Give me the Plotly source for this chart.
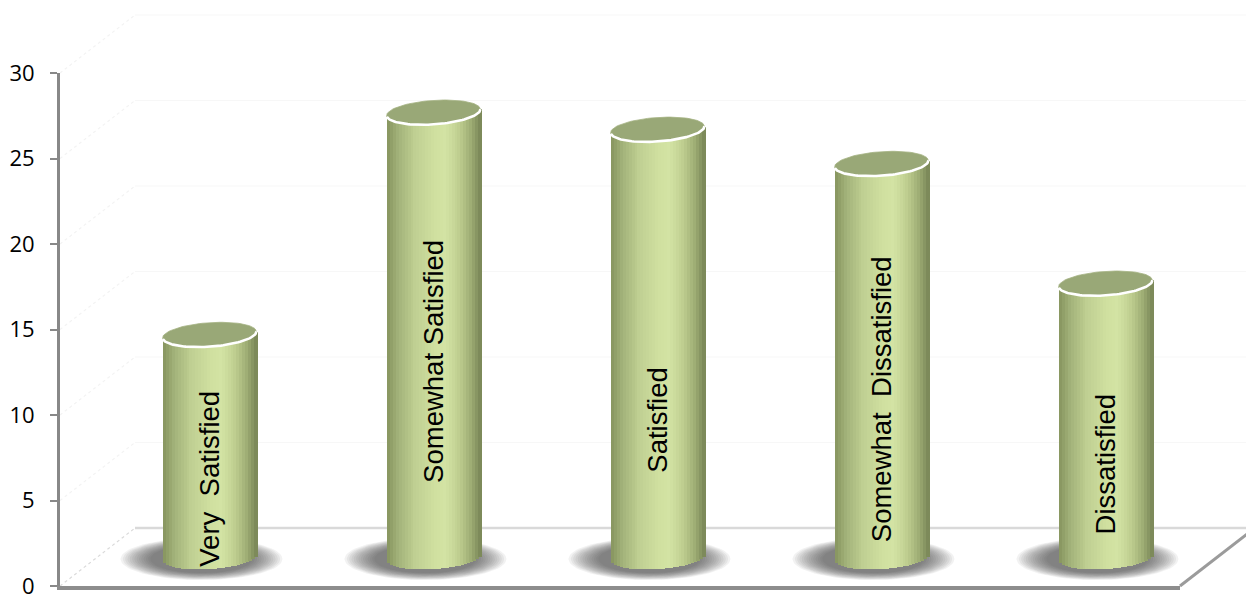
import numpy as np
import plotly.graph_objects as go

# ---------------- data ----------------
categories = ["Very Satisfied", "Somewhat Satisfied", "Satisfied",
              "Somewhat Dissatisfied", "Dissatisfied"]
labels = ["Very\u00a0 Satisfied", "Somewhat Satisfied", "Satisfied",
          "Somewhat\u00a0 Dissatisfied", "Dissatisfied"]
values = [13, 26, 25, 23, 16]
y_ticks = [0, 5, 10, 15, 20, 25, 30]
label_pos = [0.35, 0.44, 0.32, 0.40, 0.34]  # label centre as share of bar height

# ---------------- geometry (pixels) ----------------
W, H = 1246, 597
X0, X1 = 60, 1180          # front floor edge
Y0 = 586                   # front value 0
PPU = 17.1                 # pixels per unit
DX, DY = 75, 58            # depth offset (front -> back wall)
YMAX = 30
YMIN2 = -2


def px(x):
    return x / W


def py(y):
    return (H - y) / H


MX0, MX1 = X0 + DX / 2, X1 + DX / 2
MY0 = Y0 - DY / 2
n = len(categories)
PPC = (MX1 - MX0) / n      # pixels per category

# cylinder ellipse (pixels)
A_, B_ = 47.0, 12.0
TH = np.deg2rad(4.0)


def ell(t, a=A_, b=B_, th=TH):
    X = a * np.cos(t) * np.cos(th) - b * np.sin(t) * np.sin(th)
    Y = a * np.cos(t) * np.sin(th) + b * np.sin(t) * np.cos(th)
    return X, Y


def arc_y(X, a=A_, b=B_, th=TH):
    c, s = np.cos(th), np.sin(th)
    A = s * s / a ** 2 + c * c / b ** 2
    Bq = 2 * X * (c * s / a ** 2 - s * c / b ** 2)
    C = X * X * (c * c / a ** 2 + s * s / b ** 2) - 1
    disc = np.maximum(Bq * Bq - 4 * A * C, 0)
    low = (-Bq - np.sqrt(disc)) / (2 * A)
    mid = -Bq / (2 * A)
    return low, mid


def hex2rgb(h):
    h = h.lstrip('#')
    return np.array([int(h[i:i + 2], 16) for i in (0, 2, 4)], float)


stops = [(0.0, '#86945e'), (0.12, '#a3b37a'), (0.3, '#bfcf92'), (0.5, '#cfdf9f'),
         (0.62, '#d3e3a4'), (0.78, '#bdcc8e'), (0.9, '#9cab73'), (1.0, '#778455')]


def shade(p):
    ps = [s[0] for s in stops]
    cs = [hex2rgb(s[1]) for s in stops]
    rgb = [np.interp(p, ps, [c[i] for c in cs]) for i in range(3)]
    return 'rgb(%d,%d,%d)' % tuple(int(round(v)) for v in rgb)


xs = np.arange(n)
fig = go.Figure()

# invisible trace so the front axes are drawn
fig.add_trace(go.Scatter(x=[-0.5], y=[0], mode='markers', marker=dict(opacity=0),
                         xaxis='x', yaxis='y', hoverinfo='skip', showlegend=False))

# ---- shadows (base subplot x2/y2, beneath the cylinders) ----
layers = 14
for j in range(layers):
    f = j / (layers - 1)
    sa = A_ + 34 - 30 * f
    sb = B_ + 9 - 7 * f
    t = np.linspace(0, 2 * np.pi, 80)
    ex, ey = ell(t, sa, sb, 0)
    sx, sy = [], []
    for k in range(n):
        sx += list(k + (ex - 8) / PPC) + [None]
        sy += list((ey - 2) / PPU) + [None]
    fig.add_trace(go.Scatter(x=sx, y=sy, xaxis='x2', yaxis='y2', mode='lines',
                             fill='toself', fillcolor='rgba(60,60,60,0.068)',
                             line=dict(width=0), hoverinfo='skip', showlegend=False))

# ---- cylinder bodies as shaded strips (overlay subplot x3/y3) ----
Xs = np.sqrt(A_ ** 2 * np.cos(TH) ** 2 + B_ ** 2 * np.sin(TH) ** 2)
NS = 32
edges = np.linspace(-Xs, Xs, NS + 1)
sw = edges[1] - edges[0]
for i in range(NS):
    xc = (edges[i] + edges[i + 1]) / 2
    low, mid = arc_y(xc)
    base = low / PPU
    tops = [v + mid / PPU for v in values]
    fig.add_trace(go.Bar(
        x=xs, y=[tp - base for tp in tops], base=[base] * n,
        width=(sw * 1.25) / PPC, offset=edges[i] / PPC,
        marker=dict(color=shade((xc + Xs) / (2 * Xs)), line=dict(width=0)),
        xaxis='x3', yaxis='y3', hoverinfo='skip', showlegend=False))

# ---- top ellipses ----
t = np.linspace(0, 2 * np.pi, 90)
ex, ey = ell(t)
tx, ty = [], []
for k, v in enumerate(values):
    tx += list(k + ex / PPC) + [None]
    ty += list(v + ey / PPU) + [None]
fig.add_trace(go.Scatter(x=tx, y=ty, xaxis='x3', yaxis='y3', mode='lines',
                         fill='toself', fillcolor='#99a877',
                         line=dict(width=0.8, color='#a5b383'),
                         hoverinfo='skip', showlegend=False))
# white rim on the front arc
tr = np.linspace(np.pi * 1.03, 2 * np.pi, 60)
rx, ry = ell(tr)
wx, wy = [], []
for k, v in enumerate(values):
    wx += list(k + rx / PPC) + [None]
    wy += list(v + ry / PPU) + [None]
fig.add_trace(go.Scatter(x=wx, y=wy, xaxis='x3', yaxis='y3', mode='lines',
                         line=dict(width=2.6, color='white'),
                         hoverinfo='skip', showlegend=False))

# ---- shapes: floor, walls ----
shapes = []
BY = Y0 - DY
shapes.append(dict(type='path', xref='paper', yref='paper', layer='below',
                   path='M %f %f L %f %f L %f %f L %f %f Z' % (
                       px(X0), py(Y0), px(X1), py(Y0), px(X1 + DX), py(BY), px(X0 + DX), py(BY)),
                   fillcolor='white', line=dict(width=0)))
for v in y_ticks:
    yy = BY - v * PPU
    if v == 0:
        col, wd = '#d9d9d9', 2.5
    else:
        col, wd = '#f7f7f7', 1.2
    shapes.append(dict(type='line', xref='paper', yref='paper', layer='below',
                       x0=px(X0 + DX), x1=px(X1 + DX), y0=py(yy), y1=py(yy),
                       line=dict(color=col, width=wd)))
    yf = Y0 - v * PPU
    shapes.append(dict(type='line', xref='paper', yref='paper', layer='below',
                       x0=px(X0), y0=py(yf), x1=px(X0 + DX), y1=py(yf - DY),
                       line=dict(color='#dadada' if v == 0 else '#f3f3f3', width=1.2, dash='dot')))
shapes.append(dict(type='line', xref='paper', yref='paper', layer='above',
                   x0=px(X1), y0=py(Y0), x1=px(X1 + DX), y1=py(BY),
                   line=dict(color='#9b9b9b', width=3)))

# ---- labels ----
annotations = []
for k, (lab, v, f) in enumerate(zip(labels, values, label_pos)):
    annotations.append(dict(x=k, y=v * f, xref='x3', yref='y3', text=lab,
                            textangle=-90, showarrow=False,
                            font=dict(family='Liberation Sans, Arial', size=27.5, color='black'),
                            xanchor='center', yanchor='middle'))

mid_y_domain = [py(MY0 - YMIN2 * PPU), py(MY0 - YMAX * PPU)]
fig.update_layout(
    width=W, height=H, margin=dict(l=0, r=0, t=0, b=0, pad=0, autoexpand=False),
    paper_bgcolor='white', plot_bgcolor='rgba(0,0,0,0)',
    barmode='overlay', bargap=0, showlegend=False,
    shapes=shapes, annotations=annotations,
    xaxis=dict(domain=[px(X0), px(X1)], range=[-0.5, n - 0.5], showgrid=False,
               zeroline=False, showticklabels=False, ticks='', showline=True,
               linecolor='#8d8d8d', linewidth=4, anchor='y', fixedrange=True,
               automargin=False),
    yaxis=dict(domain=[py(Y0), py(Y0 - YMAX * PPU)], range=[0, YMAX],
               tickvals=y_ticks, ticktext=[str(v) for v in y_ticks],
               showgrid=False, zeroline=False, showline=True, linecolor='#888888',
               linewidth=3, ticks='outside', ticklen=7, tickwidth=2, tickcolor='#888888',
               tickfont=dict(family='Open Sans', size=22, color='black'),
               ticklabelstandoff=11, ticklabeloverflow='allow', anchor='x',
               fixedrange=True, automargin=False),
    xaxis2=dict(domain=[px(MX0), px(MX1)], range=[-0.5, n - 0.5], visible=False,
                anchor='y2', fixedrange=True),
    yaxis2=dict(domain=mid_y_domain, range=[YMIN2, YMAX],
                visible=False, anchor='x2', fixedrange=True),
    xaxis3=dict(overlaying='x2', range=[-0.5, n - 0.5], visible=False,
                anchor='y3', fixedrange=True),
    yaxis3=dict(overlaying='y2', range=[YMIN2, YMAX],
                visible=False, anchor='x3', fixedrange=True),
)

fig.write_html("out.html")
